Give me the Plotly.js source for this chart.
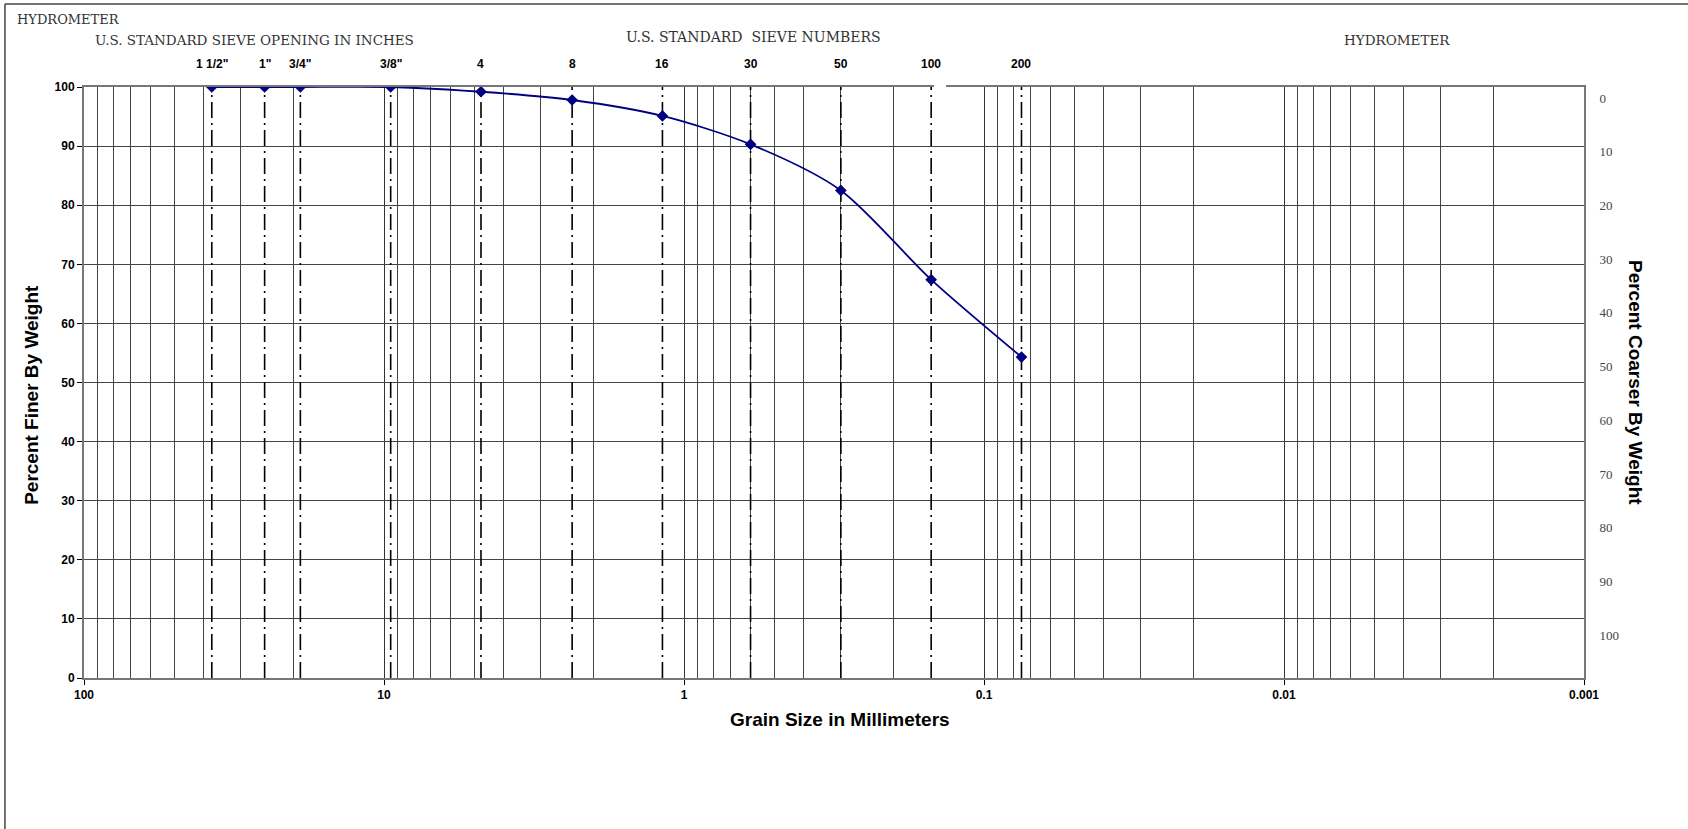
<!DOCTYPE html>
<html>
<head>
<meta charset="utf-8">
<script src="https://cdn.plot.ly/plotly-3.0.1.min.js"></script>
<style>
html,body{margin:0;padding:0;background:#fff;}
#chart{width:1688px;height:829px;}
</style>
</head>
<body>
<div id="chart"></div>
<script>
// Sieve data
const sieveLabels = ['1 1/2"', '1"', '3/4"', '3/8"', '4', '8', '16', '30', '50', '100', '200'];
const grainSizeMm = [37.5, 25, 19, 9.5, 4.75, 2.36, 1.18, 0.6, 0.3, 0.15, 0.075];
const percentFiner = [100, 100, 100, 100, 99.2, 97.8, 95.1, 90.3, 82.5, 67.4, 54.3];

const xTickVals = [100, 10, 1, 0.1, 0.01, 0.001];
const xTickText = ['100', '10', '1', '0.1', '0.01', '0.001'];
const yTickVals = [0, 10, 20, 30, 40, 50, 60, 70, 80, 90, 100];
const coarserTickVals = [0, 10, 20, 30, 40, 50, 60, 70, 80, 90, 100];
const coarserTickText = ['0', '10', '20', '30', '40', '50', '60', '70', '80', '90', '100'];

// vertical sieve lines (dash-dot) built from sieve sizes
const vx = [], vy = [];
grainSizeMm.forEach(d => { vx.push(d, d, null); vy.push(0, 100, null); });

const traces = [
  {
    x: vx, y: vy, type: 'scatter', mode: 'lines', hoverinfo: 'skip',
    line: {color: '#000', width: 1.6, dash: '16px,5px,2px,5px'},
    showlegend: false
  },
  {
    x: grainSizeMm, y: percentFiner, type: 'scatter', mode: 'lines+markers',
    line: {color: '#000080', width: 1.8, shape: 'spline', smoothing: 0.8},
    marker: {symbol: 'diamond', size: 9, color: '#000080'},
    showlegend: false
  },
  {
    x: [100], y: [null], yaxis: 'y2', type: 'scatter', mode: 'markers',
    showlegend: false, hoverinfo: 'skip'
  }
];

const serif = 'DejaVu Serif, Liberation Serif, serif';
const sans = 'Liberation Sans, Arial, sans-serif';

const annotations = [];
sieveLabels.forEach((t, i) => {
  annotations.push({
    x: Math.log10(grainSizeMm[i]), xref: 'x', y: 1.039, yref: 'paper',
    text: '<b>' + t + '</b>', showarrow: false, xanchor: 'center', yanchor: 'middle',
    font: {family: sans, size: 12, color: '#000'}
  });
});
annotations.push(
  {x: -0.046, y: 1.115, xref: 'paper', yref: 'paper', xanchor: 'left', yanchor: 'middle',
   text: 'HYDROMETER', showarrow: false, font: {family: serif, size: 13, color: '#333'}},
  {x: 0.1137, y: 1.0795, xref: 'paper', yref: 'paper', xanchor: 'center', yanchor: 'middle',
   text: 'U.S. STANDARD SIEVE OPENING IN INCHES', showarrow: false, font: {family: serif, size: 13.5, color: '#333'}},
  {x: 0.4464, y: 1.0853, xref: 'paper', yref: 'paper', xanchor: 'center', yanchor: 'middle',
   text: 'U.S. STANDARD  SIEVE NUMBERS', showarrow: false, font: {family: serif, size: 14, color: '#333'}},
  {x: 0.8753, y: 1.0795, xref: 'paper', yref: 'paper', xanchor: 'center', yanchor: 'middle',
   text: 'HYDROMETER', showarrow: false, font: {family: serif, size: 13.5, color: '#333'}},
  {x: 0.5043, y: -0.0694, xref: 'paper', yref: 'paper', xanchor: 'center', yanchor: 'middle',
   text: '<b>Grain Size in Millimeters</b>', showarrow: false, font: {family: sans, size: 19, color: '#000'}},
  {x: -0.0347, y: 0.479, xref: 'paper', yref: 'paper', xanchor: 'center', yanchor: 'middle', textangle: -90,
   text: '<b>Percent Finer By Weight</b>', showarrow: false, font: {family: sans, size: 19, color: '#000'}},
  {x: 1.0347, y: 0.5008, xref: 'paper', yref: 'paper', xanchor: 'center', yanchor: 'middle', textangle: 90,
   text: '<b>Percent Coarser By Weight</b>', showarrow: false, font: {family: sans, size: 19, color: '#000'}}
);

const layout = {
  width: 1688, height: 829,
  margin: {l: 84, r: 104, t: 87, b: 151, pad: 0},
  paper_bgcolor: '#fff', plot_bgcolor: '#fff',
  showlegend: false,
  xaxis: {
    type: 'log', range: [2, -3], autorange: false,
    tickvals: xTickVals, ticktext: xTickText,
    tickfont: {family: sans, size: 12, color: '#000', weight: 'bold'},
    ticks: 'outside', ticklen: 5, tickcolor: '#000',
    showgrid: true, gridcolor: '#333', gridwidth: 1,
    minor: {showgrid: true, dtick: 'D1', gridcolor: '#444', gridwidth: 1},
    showline: true, linecolor: '#777', linewidth: 2, mirror: true,
    zeroline: false
  },
  yaxis: {
    range: [0, 100], autorange: false,
    tickvals: yTickVals,
    tickfont: {family: sans, size: 12, color: '#000', weight: 'bold'},
    ticks: 'outside', ticklen: 5, tickcolor: '#000',
    showgrid: true, gridcolor: '#444', gridwidth: 1,
    showline: true, linecolor: '#777', linewidth: 2, mirror: true,
    zeroline: false
  },
  yaxis2: {
    overlaying: 'y', side: 'right', range: [107.97, -2.05], autorange: false,
    tickvals: coarserTickVals, ticktext: coarserTickText,
    tickfont: {family: 'Liberation Serif, serif', size: 13, color: '#444'},
    ticks: 'outside', ticklen: 12, tickcolor: 'rgba(0,0,0,0)',
    showgrid: false, showline: false, zeroline: false
  },
  annotations: annotations,
  shapes: [
    {type: 'line', xref: 'paper', yref: 'paper', x0: 0.5667, x1: 0.5747, y0: 1, y1: 1,
     line: {color: '#fff', width: 4}, layer: 'above'},
    {type: 'line', xref: 'paper', yref: 'paper', x0: -0.0527, x1: 1.0693, y0: 1.1404, y1: 1.1404,
     line: {color: '#444', width: 1.5}},
    {type: 'line', xref: 'paper', yref: 'paper', x0: -0.0527, x1: -0.0527, y0: 1.1404, y1: -0.26,
     line: {color: '#444', width: 1.5}}
  ]
};

Plotly.newPlot('chart', traces, layout, {displayModeBar: false, staticPlot: true});
</script>
</body>
</html>
